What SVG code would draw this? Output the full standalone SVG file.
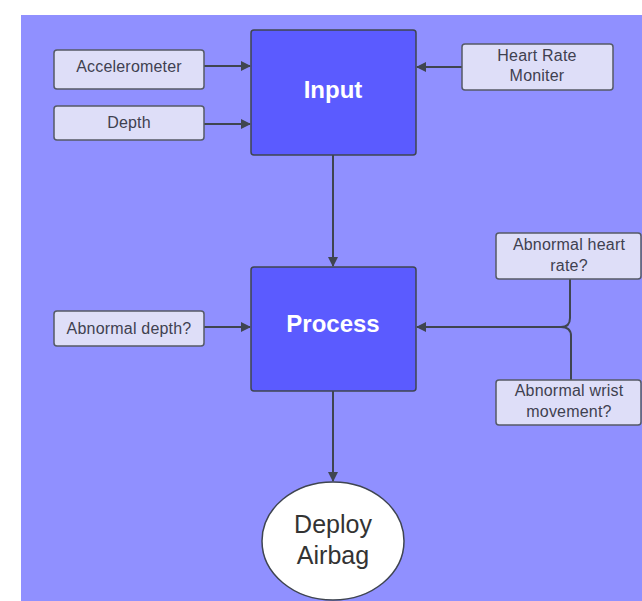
<svg xmlns="http://www.w3.org/2000/svg" width="642" height="601" viewBox="0 0 642 601">
<style>
.big{fill:#5B5BFF;stroke:#3F4550;stroke-width:1.5}
.small{fill:#DEDEF8;stroke:#555A66;stroke-width:1.5}
.st{font-family:"Liberation Sans",Arial,sans-serif;font-size:16px;letter-spacing:0.2px;fill:#3F4150;text-anchor:middle}
.bt{font-family:"Liberation Sans",Arial,sans-serif;font-size:24px;font-weight:bold;fill:#FFFFFF;text-anchor:middle}
.et{font-family:"Liberation Sans",Arial,sans-serif;font-size:25px;fill:#333333;text-anchor:middle}
.ln{fill:none;stroke:#3F4550;stroke-width:2}
</style>
<defs>
<marker id="ah" markerWidth="10" markerHeight="10" refX="9" refY="5" orient="auto" markerUnits="userSpaceOnUse">
<path d="M0,0 L10,5 L0,10 Z" fill="#3F4550"/>
</marker>
</defs>
<rect x="0" y="0" width="642" height="601" fill="#FFFFFF"/>
<rect x="21" y="15" width="621" height="586" fill="#9090FF"/>
<g id="connectors">
<line class="ln" x1="204" y1="66" x2="250" y2="66" marker-end="url(#ah)"/>
<line class="ln" x1="204" y1="124" x2="250" y2="124" marker-end="url(#ah)"/>
<line class="ln" x1="462" y1="67" x2="417" y2="67" marker-end="url(#ah)"/>
<line class="ln" x1="333" y1="155" x2="333" y2="266" marker-end="url(#ah)"/>
<line class="ln" x1="204" y1="327" x2="250" y2="327" marker-end="url(#ah)"/>
<path class="ln" d="M570,279 L570,318 Q570,327 561,327 L417,327" marker-end="url(#ah)"/>
<path class="ln" d="M571,380 L571,336 Q571,327 561,327"/>
<line class="ln" x1="333" y1="391" x2="333" y2="481" marker-end="url(#ah)"/>
</g>
<g id="input">
<rect class="big" x="251" y="30" width="165" height="125" rx="3"/>
<text class="bt" x="333" y="98">Input</text>
</g>
<g id="process">
<rect class="big" x="251" y="267" width="165" height="124" rx="3"/>
<text class="bt" x="333" y="332">Process</text>
</g>
<g id="accelerometer">
<rect class="small" x="54" y="50" width="150" height="39" rx="3"/>
<text class="st" x="129" y="72">Accelerometer</text>
</g>
<g id="depth">
<rect class="small" x="54" y="106" width="150" height="34" rx="3"/>
<text class="st" x="129" y="128">Depth</text>
</g>
<g id="heart-rate-moniter">
<rect class="small" x="462" y="44" width="151" height="46" rx="3"/>
<text class="st" x="537" y="61">Heart Rate</text>
<text class="st" x="537" y="81">Moniter</text>
</g>
<g id="abnormal-depth">
<rect class="small" x="54" y="311" width="150" height="35" rx="3"/>
<text class="st" x="129" y="334">Abnormal depth?</text>
</g>
<g id="abnormal-heart-rate">
<rect class="small" x="496" y="233" width="145" height="46" rx="3"/>
<text class="st" x="569" y="250">Abnormal heart</text>
<text class="st" x="569" y="271">rate?</text>
</g>
<g id="abnormal-wrist-movement">
<rect class="small" x="496" y="380" width="145" height="45" rx="3"/>
<text class="st" x="569" y="396">Abnormal wrist</text>
<text class="st" x="569" y="417">movement?</text>
</g>
<g id="deploy-airbag">
<ellipse cx="333" cy="541" rx="71" ry="59" fill="#FFFFFF" stroke="#3F4550" stroke-width="1.5"/>
<text class="et" x="333" y="533">Deploy</text>
<text class="et" x="333" y="564">Airbag</text>
</g>
</svg>
